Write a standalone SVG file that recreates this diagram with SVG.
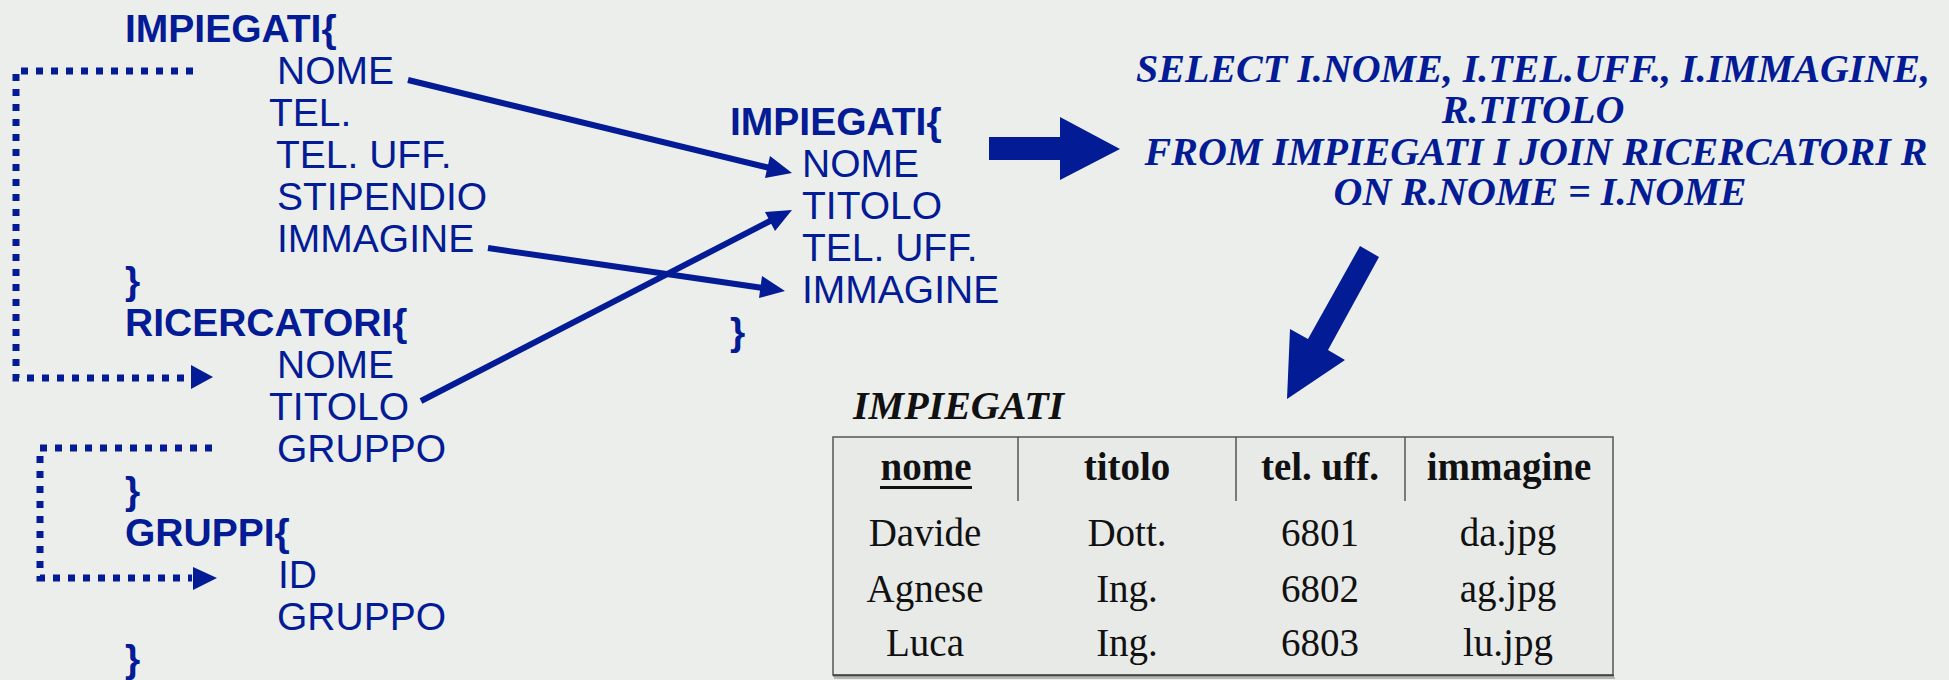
<svg xmlns="http://www.w3.org/2000/svg" width="1949" height="680" viewBox="0 0 1949 680">
  <style>
    .sans { font-family: "Liberation Sans", Arial, sans-serif; font-size: 39px; fill: #031b94; }
    .bold { font-weight: bold; }
    .sql { font-family: "Liberation Serif", "Times New Roman", serif; font-size: 40px; font-weight: bold; font-style: italic; fill: #031b94; text-anchor: middle; }
    .cap { font-family: "Liberation Serif", "Times New Roman", serif; font-size: 40px; font-weight: bold; font-style: italic; fill: #111; }
    .th { font-family: "Liberation Serif", "Times New Roman", serif; font-size: 39px; font-weight: bold; fill: #111; text-anchor: middle; }
    .td { font-family: "Liberation Serif", "Times New Roman", serif; font-size: 39px; fill: #111; text-anchor: middle; }
    .dots { fill: none; stroke: #031b94; stroke-width: 7; stroke-dasharray: 7 8; }
    .link { fill: none; stroke: #031b94; stroke-width: 6; }
    .head { fill: #031b94; }
    .grid { stroke: #555; stroke-width: 1.5; }
  </style>

  <rect width="1949" height="680" fill="#eceeec"/>

  <!-- schema on the left -->
  <g id="impiegati">
    <text class="sans bold" x="125" y="42">IMPIEGATI{</text>
    <text class="sans" x="277" y="84">NOME</text>
    <text class="sans" x="269" y="126">TEL.</text>
    <text class="sans" x="276" y="168">TEL. UFF.</text>
    <text class="sans" x="277" y="210">STIPENDIO</text>
    <text class="sans" x="277" y="252">IMMAGINE</text>
    <text class="sans bold" x="125" y="294">}</text>
  </g>

  <g id="ricercatori">
    <text class="sans bold" x="125" y="336">RICERCATORI{</text>
    <text class="sans" x="277" y="378">NOME</text>
    <text class="sans" x="269" y="420">TITOLO</text>
    <text class="sans" x="277" y="462">GRUPPO</text>
    <text class="sans bold" x="125" y="504">}</text>
  </g>

  <g id="gruppi">
    <text class="sans bold" x="125" y="546">GRUPPI{</text>
    <text class="sans" x="278" y="588">ID</text>
    <text class="sans" x="277" y="630">GRUPPO</text>
    <text class="sans bold" x="125" y="672">}</text>
  </g>

  <!-- joined schema in the middle -->
  <g id="impiegati-join">
    <text class="sans bold" x="730" y="135">IMPIEGATI{</text>
    <text class="sans" x="802" y="177">NOME</text>
    <text class="sans" x="802" y="219">TITOLO</text>
    <text class="sans" x="802" y="261">TEL. UFF.</text>
    <text class="sans" x="802" y="303">IMMAGINE</text>
    <text class="sans bold" x="730" y="345">}</text>
  </g>

  <!-- SQL statement -->
  <g id="query">
    <text class="sql" x="1533" y="82">SELECT I.NOME, I.TEL.UFF., I.IMMAGINE,</text>
    <text class="sql" x="1533" y="123">R.TITOLO</text>
    <text class="sql" x="1536" y="165">FROM IMPIEGATI I JOIN RICERCATORI R</text>
    <text class="sql" x="1540" y="205">ON R.NOME = I.NOME</text>
  </g>

  <!-- result table -->
  <g id="result-table">
    <text class="cap" x="853" y="419">IMPIEGATI</text>
    <rect x="833" y="437" width="780" height="238" fill="#e8eae8" class="grid"/>
    <line x1="833" y1="675.5" x2="1614" y2="675.5" stroke="#444" stroke-width="2"/>
    <line x1="834" y1="678" x2="1615" y2="678" stroke="#b5b7b5" stroke-width="2"/>
    <line class="grid" x1="1018" y1="437" x2="1018" y2="501"/>
    <line class="grid" x1="1236" y1="437" x2="1236" y2="501"/>
    <line class="grid" x1="1405" y1="437" x2="1405" y2="501"/>

    <text class="th" x="926" y="480">nome</text>
    <rect x="880" y="486" width="92" height="3" fill="#111"/>
    <text class="th" x="1127" y="480">titolo</text>
    <text class="th" x="1320" y="480">tel. uff.</text>
    <text class="th" x="1509" y="480">immagine</text>

    <text class="td" x="925" y="546">Davide</text>
    <text class="td" x="1127" y="546">Dott.</text>
    <text class="td" x="1320" y="546">6801</text>
    <text class="td" x="1508" y="546">da.jpg</text>

    <text class="td" x="925" y="602">Agnese</text>
    <text class="td" x="1127" y="602">Ing.</text>
    <text class="td" x="1320" y="602">6802</text>
    <text class="td" x="1508" y="602">ag.jpg</text>

    <text class="td" x="925" y="656">Luca</text>
    <text class="td" x="1127" y="656">Ing.</text>
    <text class="td" x="1320" y="656">6803</text>
    <text class="td" x="1508" y="656">lu.jpg</text>
  </g>

  <!-- connectors -->
  <g id="connectors">
    <!-- foreign-key references (dotted) -->
    <path class="dots" d="M193,71 H16 V378 H190"/>
    <polygon class="head" points="191,365 213,377 191,389"/>
    <path class="dots" d="M212,448 H40 V578 H192"/>
    <polygon class="head" points="193,567 217,578 193,590"/>

    <!-- attribute mapping into the join -->
    <line class="link" x1="408" y1="80" x2="770" y2="168"/>
    <polygon class="head" points="792,173 765,178 770,156"/>
    <line class="link" x1="488" y1="248" x2="763" y2="288"/>
    <polygon class="head" points="785,291 759,298 762,276"/>
    <line class="link" x1="421" y1="401" x2="772" y2="220"/>
    <polygon class="head" points="792,210 775,231 765,212"/>

    <!-- block arrows -->
    <polygon class="head" points="989,137 1060,137 1060,117 1120,149 1060,180 1060,160 989,160"/>
    <polygon class="head" points="1360,246 1379,257 1328,350 1345,360 1287,399 1290,329 1308,339"/>
  </g>
</svg>
